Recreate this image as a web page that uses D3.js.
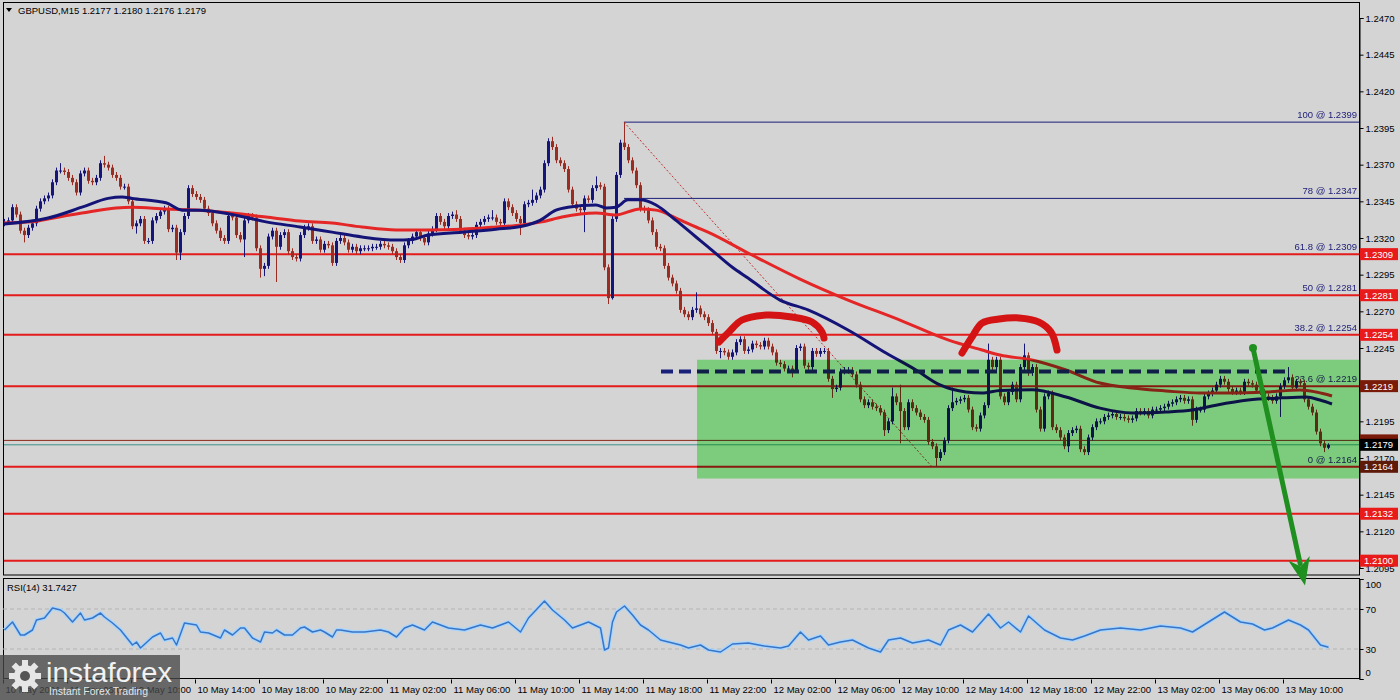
<!DOCTYPE html>
<html><head><meta charset="utf-8">
<script src="https://cdn.jsdelivr.net/npm/d3@7"></script>
<style>
html,body{margin:0;padding:0;background:#d4d4d4;}
svg{display:block;}
text{font-family:"Liberation Sans",Arial,sans-serif;}
</style></head><body>
<svg id="c" width="1400" height="700"></svg>
<script>
// ---------------- DATA ----------------
const symbolTitle = "GBPUSD,M15  1.2177 1.2180 1.2176 1.2179";
const rsiTitle = "RSI(14) 31.7427";
const priceBase = 1.2000, pip = 0.0001;           // prices below are pips above 1.2000
const firstOpen = 330;
const closes = [
331,332,341,336,325,322,327,330,340,345,347,349,358,366,366,365,361,358,351,364,
366,359,358,361,371,370,368,363,361,355,355,345,328,330,333,318,318,332,335,338,
340,326,327,310,324,335,354,350,348,346,340,337,330,325,320,318,335,334,322,319,
332,335,334,313,299,301,321,325,314,322,324,311,307,306,322,327,328,318,319,312,
316,315,303,318,320,317,312,314,311,313,313,313,314,314,316,315,314,311,307,305,
315,318,321,324,320,317,323,326,335,331,328,335,336,333,325,322,321,322,329,331,
333,334,334,331,330,345,341,337,333,330,343,344,346,349,353,371,386,382,373,371,
367,353,343,340,339,347,346,354,356,355,300,279,333,363,385,382,373,366,356,340,
339,332,324,314,313,301,293,289,284,271,268,266,271,272,268,266,262,256,243,243,
242,239,242,249,251,243,244,248,247,246,250,246,242,235,234,231,231,230,245,246,
233,232,243,241,243,243,224,217,218,229,230,230,227,220,210,206,208,205,204,201,
189,195,212,208,202,191,208,204,201,198,196,181,178,170,174,182,204,208,209,210,
211,203,191,190,199,206,237,232,237,212,208,215,220,210,232,240,228,232,203,190,
212,214,191,189,184,178,187,189,190,176,174,184,191,195,195,198,199,200,198,198,
197,196,197,202,201,202,199,203,203,204,205,207,208,210,211,209,210,196,203,203,
212,214,216,220,224,222,217,215,216,215,222,221,220,216,215,212,211,209,212,219,
223,225,218,222,221,210,205,201,188,180,177,179];
const highExtremes = {14:371,25:376,113:339,122:339,132:353,137:389,148:362,150:357,155:399,173:283,
  179:245,222:218,224:220,237:218,246:248,255:248,321:232,331:180};
const lowExtremes = {5:317,33:323,43:305,44:305,60:307,64:293,65:294,68:290,129:322,145:324,151:275,
  152:278,179:238,197:225,207:211,220:185,224:180,233:164,266:174,270:172,297:192,319:198,330:174,331:176};
const wickPips = 2;

const blueMA = [[0,329.6],[11,333.6],[19.5,341],[26,347],[29.5,348],[32,347],[40.5,344],[44.5,339],[49,339],
 [57,336],[65.5,331],[74,327.5],[82,324],[89.5,320.7],[98,318.6],[102,319],[106,322],[114.5,324],[123,326],
 [129.5,328],[134,332],[138,339],[141,341],[148,342.5],[150.5,340.5],[153,341],[156,346],[159,346],
 [163,342.5],[168,332],[173,320.7],[176,314],[182,300.2],[186,292.7],[194,277.7],[201,271],[211,257.3],
 [220.5,241.6],[228,230],[234,219.8],[240.5,215],[244.5,214.3],[249,216],[257,216.5],[265.5,211.6],
 [274,204],[282,200.7],[290.5,201.4],[297,202.7],[303,206],[311,209.5],[319.5,211],[325.5,211.6],
 [329,209.5],[332,206.8]];
const redMA = [[0,330.2],[7,331],[11,333],[19.5,337],[28,340.5],[32,341],[40.5,339.8],[49,339],[57,337],
 [65.5,334.3],[74,331.6],[82,330.2],[89.5,327.5],[98,325.5],[106,325.5],[114.5,326],[123,327.5],
 [129.5,328.9],[134.5,331],[139.5,334.3],[148,337],[153,335.7],[159,339.8],[163,339],[168,333.6],
 [173,327.5],[176,324],[186,309.8],[199,292],[211,277.7],[224,264],[236,250.5],[244.5,243.6],[249,240.2],
 [257,236.8],[265.5,230],[274,221.1],[282,217.7],[290.5,215.7],[299,214.3],[307,214.3],[315.5,215],
 [324,216.4],[328,215],[332,212.3]];

const rsiPoints = [[0,49],[2,57],[4,44],[5,44],[7,49],[8,59],[10,61],[12,71],[14,69],[15,66],[17,57],[19,66],
 [20,59],[22,61],[24,66],[25,62],[27,56],[29,49],[32,34],[33,37],[34,31],[37,42],[38,44],[39,46],[40,39],
 [42,41],[43,34],[45,56],[48,54],[49,47],[51,46],[54,41],[55,49],[57,44],[59,51],[60,51],[62,41],[64,37],
 [65,47],[67,46],[68,49],[70,44],[72,44],[74,51],[75,52],[77,47],[79,49],[80,47],[82,42],[83,49],[84,49],
 [87,47],[90,47],[94,49],[96,47],[98,42],[100,51],[102,54],[105,49],[107,57],[111,51],[115,49],[119,54],
 [122,51],[126,57],[129,47],[131,61],[135,78],[137,69],[140,59],[142,51],[146,57],[149,51],[150,29],
 [151,31],[152,57],[153,67],[155,73],[157,64],[159,54],[161,49],[164,39],[166,37],[169,34],[171,31],
 [174,34],[176,29],[179,27],[182,35],[186,36],[190,33],[194,31],[196,33],[199,47],[201,39],[204,43],
 [206,34],[209,37],[212,39],[216,31],[219,27],[221,39],[224,41],[227,36],[231,39],[234,34],[236,49],
 [239,54],[242,47],[246,65],[249,51],[251,57],[254,47],[256,63],[260,49],[264,41],[267,39],[270,43],
 [274,49],[279,51],[284,49],[289,53],[294,51],[297,47],[301,57],[305,67],[309,57],[312,55],[315,49],
 [317,51],[321,59],[324,54],[326,49],[329,34],[331,31.74]];
const rsiLevels = [30, 70];
const rsiTicks = [0, 30, 70, 100];

const priceTicks = [1.2470,1.2445,1.2420,1.2395,1.2370,1.2345,1.2320,1.2295,1.2270,1.2245,1.2220,1.2195,1.2170,1.2145,1.2120,1.2095];
const timeTickBars = [0,16,32,48,64,80,96,112,128,144,160,176,192,208,224,240,256,272,288,304,320];
const timeLabels = ["10 May 2021","10 May 06:00","10 May 10:00","10 May 14:00","10 May 18:00","10 May 22:00",
 "11 May 02:00","11 May 06:00","11 May 10:00","11 May 14:00","11 May 18:00","11 May 22:00",
 "12 May 02:00","12 May 06:00","12 May 10:00","12 May 14:00","12 May 18:00","12 May 22:00",
 "13 May 02:00","13 May 06:00","13 May 10:00"];

const redLevels = [1.2309, 1.2281, 1.2254, 1.2219, 1.2164, 1.2132, 1.2100];
const fibLevels = [["100",1.2399],["78",1.2347],["61.8",1.2309],["50",1.2281],["38.2",1.2254],["23.6",1.2219],["0",1.2164]];
const fibStartBar = 155;
const fibTrend = [[155,1.2399],[232,1.2164]];
const askLine = 1.2182, bidLine = 1.2179;
const priceBoxes = [[1.2309,"#e81a1a"],[1.2281,"#e81a1a"],[1.2254,"#e81a1a"],[1.2219,"#7a1a08"],
  [1.2179,"#000000"],[1.2164,"#5e1a08"],[1.2132,"#e81a1a"],[1.2100,"#e81a1a"]];
const hiddenBox = [1.2182,"#7a1a08"];
const zoneBars = [173.25, 340], zonePrices = [1.2156, 1.2237];
const dashedLevel = 1.2229, dashedBars = [164.25, 321.5];
const arc1 = [[178.75,249.1],[181.25,255.9],[184.5,264.1],[190.5,267.5],[197,266.1],[202,262.7],[204.5,255.9],[205,251.8]];
const arc2 = [[239.5,241.6],[242,252.5],[244.5,262],[248.75,264.8],[253.75,265.5],[258.75,262.7],[261.75,255.9],[263.25,243.6]];
const arrowFrom = [312.25, 1.2245], arrowTo = [325.25, 1.2083];

// ---------------- DRAW ----------------
const svg = d3.select("#c");
const L=3, R=1359, T=3, B=575, RT=579, RB=679;
const BG = "#d4d4d4";
const P = v => priceBase + v*pip;
const x = d3.scaleLinear().domain([0,331]).range([4,1328]);
const y = d3.scaleLinear().domain([1.2095,1.2470]).range([568,18]);
const yR = d3.scaleLinear().domain([0,100]).range([679,579]);
const FS = "9.5px";

svg.append("rect").attr("width",1400).attr("height",700).attr("fill",BG);
const defs = svg.append("defs");
defs.append("clipPath").attr("id","mc").append("rect").attr("x",L).attr("y",T).attr("width",R-L).attr("height",B-T);
defs.append("clipPath").attr("id","rc").append("rect").attr("x",L).attr("y",RT).attr("width",R-L).attr("height",RB-RT);

const g = svg.append("g").attr("clip-path","url(#mc)");
g.append("rect").attr("x",L).attr("y",T).attr("width",R-L).attr("height",B-T).attr("fill",BG);

// horizontal levels
g.selectAll(".lvl").data(redLevels).join("line")
 .attr("x1",L).attr("x2",R).attr("y1",d=>y(d)).attr("y2",d=>y(d))
 .attr("stroke","#e41b1b").attr("stroke-width",2);
g.append("line").attr("x1",L).attr("x2",R).attr("y1",y(askLine)).attr("y2",y(askLine)).attr("stroke","#8a2a1a").attr("stroke-width",1);
g.append("line").attr("x1",L).attr("x2",R).attr("y1",y(bidLine)).attr("y2",y(bidLine)).attr("stroke","#3f8f86").attr("stroke-width",1);
// fib upper lines
fibLevels.filter(d=>d[1]>1.2320).forEach(d=>{
  g.append("line").attr("x1",x(fibStartBar)).attr("x2",R).attr("y1",y(d[1])).attr("y2",y(d[1]))
   .attr("stroke","#1c1c78").attr("stroke-width",1);
});
// fib trend line
g.append("line").attr("x1",x(fibTrend[0][0])).attr("y1",y(fibTrend[0][1])).attr("x2",x(fibTrend[1][0])).attr("y2",y(fibTrend[1][1]))
 .attr("stroke","#c03030").attr("stroke-width",1).attr("stroke-dasharray","2,2");
// fib labels
g.selectAll(".fl").data(fibLevels).join("text")
 .attr("x",R-2).attr("y",d=>y(d[1])-4).attr("text-anchor","end").attr("font-size",FS).attr("fill","#1c1c78")
 .text(d=>d[0]+" @ "+d[1].toFixed(4));

// candles
const bars = closes.map((c,i)=>{
  const o = i ? closes[i-1] : firstOpen;
  const h = highExtremes[i] !== undefined ? highExtremes[i] : Math.max(o,c)+wickPips;
  const l = lowExtremes[i] !== undefined ? lowExtremes[i] : Math.min(o,c)-wickPips;
  return {i,o,h,l,c};
});
const bull="#16167a", bear="#9a2c22";
const cg = g.append("g");
cg.selectAll("line").data(bars).join("line")
 .attr("x1",d=>x(d.i)+0.5).attr("x2",d=>x(d.i)+0.5).attr("y1",d=>y(P(d.h))).attr("y2",d=>y(P(d.l)))
 .attr("stroke",d=>d.c>=d.o?bull:bear).attr("stroke-width",1);
cg.selectAll("rect").data(bars).join("rect")
 .attr("x",d=>x(d.i)-1).attr("width",3)
 .attr("y",d=>y(P(Math.max(d.o,d.c))))
 .attr("height",d=>Math.max(1,y(P(Math.min(d.o,d.c)))-y(P(Math.max(d.o,d.c)))))
 .attr("fill",d=>d.c>=d.o?bull:bear);

// moving averages
const maLine = d3.line().x(d=>x(d[0])).y(d=>y(P(d[1]))).curve(d3.curveMonotoneX);
g.append("path").attr("d",maLine(redMA)).attr("fill","none").attr("stroke","#e42626").attr("stroke-width",3);
g.append("path").attr("d",maLine(blueMA)).attr("fill","none").attr("stroke","#141478").attr("stroke-width",3);

// hand-drawn arcs
const arcLine = d3.line().x(d=>x(d[0])).y(d=>y(P(d[1]))).curve(d3.curveCatmullRom);
[arc1,arc2].forEach(a=>g.append("path").attr("d",arcLine(a)).attr("fill","none").attr("stroke","#d41414")
 .attr("stroke-width",7).attr("stroke-linecap","round"));

// dashed level
g.append("line").attr("x1",x(dashedBars[0])).attr("x2",x(dashedBars[1])).attr("y1",y(dashedLevel)).attr("y2",y(dashedLevel))
 .attr("stroke","#18207a").attr("stroke-width",4).attr("stroke-dasharray","12,6");

// green zone (multiply blend over the grey chart)
g.append("rect").attr("x",x(zoneBars[0])).attr("width",x(zoneBars[1])-x(zoneBars[0]))
 .attr("y",y(zonePrices[1])).attr("height",y(zonePrices[0])-y(zonePrices[1]))
 .attr("fill","#96f696").style("mix-blend-mode","multiply");

// frames
svg.append("rect").attr("x",L+0.5).attr("y",T-0.5).attr("width",R-L).attr("height",B-T+0.5).attr("fill","none").attr("stroke","#000");
svg.append("rect").attr("x",L+0.5).attr("y",RT-0.5).attr("width",R-L).attr("height",RB-RT).attr("fill","none").attr("stroke","#000");

// price axis
const pa = svg.append("g").attr("transform",`translate(${R+0.5},0)`)
 .call(d3.axisRight(y).tickValues(priceTicks).tickSize(4).tickPadding(2).tickFormat(d3.format(".4f")));
pa.select(".domain").attr("stroke","#000");
pa.selectAll("text").attr("font-size",FS).attr("fill","#000").attr("font-family","Liberation Sans, Arial");

// price boxes
const pb = svg.append("g");
pb.append("rect").attr("x",R+1).attr("y",y(hiddenBox[0])-6).attr("width",38).attr("height",12).attr("fill",hiddenBox[1]);
priceBoxes.forEach(([p,col])=>{
  const yy = y(p);
  pb.append("rect").attr("x",R+1).attr("y",yy-6).attr("width",38).attr("height",12).attr("fill",col);
  pb.append("text").attr("x",R+5).attr("y",yy+3.5).attr("font-size",FS).attr("fill","#fff").text(p.toFixed(4));
});

// arrow
const ax0=x(arrowFrom[0]), ay0=y(arrowFrom[1]), ax1=x(arrowTo[0]), ay1=y(arrowTo[1]);
const dx=ax1-ax0, dy=ay1-ay0, len=Math.hypot(dx,dy), ux=dx/len, uy=dy/len;
const hl=28, hw=11;
svg.append("line").attr("x1",ax0).attr("y1",ay0).attr("x2",ax1-ux*hl*0.8).attr("y2",ay1-uy*hl*0.8)
 .attr("stroke","#1f8f1f").attr("stroke-width",5).attr("stroke-linecap","round");
svg.append("circle").attr("cx",ax0).attr("cy",ay0).attr("r",4).attr("fill","#1f8f1f");
svg.append("path").attr("d",`M${ax1},${ay1}L${ax1-ux*hl-uy*hw},${ay1-uy*hl+ux*hw}L${ax1-ux*hl*0.7},${ay1-uy*hl*0.7}L${ax1-ux*hl+uy*hw},${ay1-uy*hl-ux*hw}Z`)
 .attr("fill","#1f8f1f");

// title
svg.append("path").attr("d","M6,8L12,8L9,12Z").attr("fill","#000");
svg.append("text").attr("x",18).attr("y",14).attr("font-size",FS).attr("fill","#000").text(symbolTitle);

// RSI panel
const rg = svg.append("g").attr("clip-path","url(#rc)");
rg.selectAll(".rl").data(rsiLevels).join("line").attr("x1",L).attr("x2",R).attr("y1",d=>yR(d)).attr("y2",d=>yR(d))
 .attr("stroke","#b4b4b4").attr("stroke-dasharray","4,3");
const rline = d3.line().x(d=>x(d[0])+0.5).y(d=>yR(d[1]));
rg.append("path").attr("d",rline(rsiPoints)).attr("fill","none").attr("stroke","#a8d6ff").attr("stroke-width",4).attr("stroke-linejoin","round");
rg.append("path").attr("d",rline(rsiPoints)).attr("fill","none").attr("stroke","#3a74c4").attr("stroke-width",1.5).attr("stroke-linejoin","round");
svg.append("text").attr("x",7).attr("y",591).attr("font-size",FS).attr("fill","#000").text(rsiTitle);
const ra = svg.append("g").attr("transform",`translate(${R+0.5},0)`)
 .call(d3.axisRight(yR).tickValues(rsiTicks).tickSize(4).tickPadding(2));
ra.select(".domain").attr("stroke","#000");
ra.selectAll("text").attr("font-size",FS).attr("fill","#000").attr("font-family","Liberation Sans, Arial")
 .attr("dy",d=>d===100?"0.9em":d===0?"-0.4em":"0.32em");

// time axis
const ta = svg.append("g").attr("transform",`translate(-1,${RB+0.5})`)
 .call(d3.axisBottom(x).tickValues(timeTickBars).tickSize(4).tickPadding(3).tickFormat((d,i)=>timeLabels[i]));
ta.select(".domain").remove();
ta.selectAll("text").attr("font-size",FS).attr("fill","#000").attr("text-anchor","start").attr("x",2)
 .attr("font-family","Liberation Sans, Arial");

// watermark logo
const lg = svg.append("g");
lg.append("rect").attr("x",0).attr("y",655).attr("width",180).attr("height",45).attr("fill","rgba(72,72,72,0.78)");
const gear = lg.append("g").attr("transform","translate(25,676)");
d3.range(8).forEach(k=>gear.append("rect").attr("x",-3).attr("y",-16).attr("width",6).attr("height",8)
  .attr("fill","#e6e6e6").attr("transform",`rotate(${k*45})`));
gear.append("circle").attr("r",11).attr("fill","#e6e6e6");
gear.append("circle").attr("r",5).attr("fill","#555");
lg.append("text").attr("x",46).attr("y",682).attr("font-size","28px").attr("font-family","Lato, 'Open Sans', sans-serif")
 .attr("font-weight",300).attr("fill","#f2f2f2").attr("textLength",126).attr("lengthAdjust","spacingAndGlyphs").text("instaforex");
lg.append("text").attr("x",49).attr("y",695).attr("font-size","11px").attr("fill","#e6e6e6")
 .attr("textLength",99).attr("lengthAdjust","spacingAndGlyphs").text("Instant Forex Trading");
</script>
</body></html>
